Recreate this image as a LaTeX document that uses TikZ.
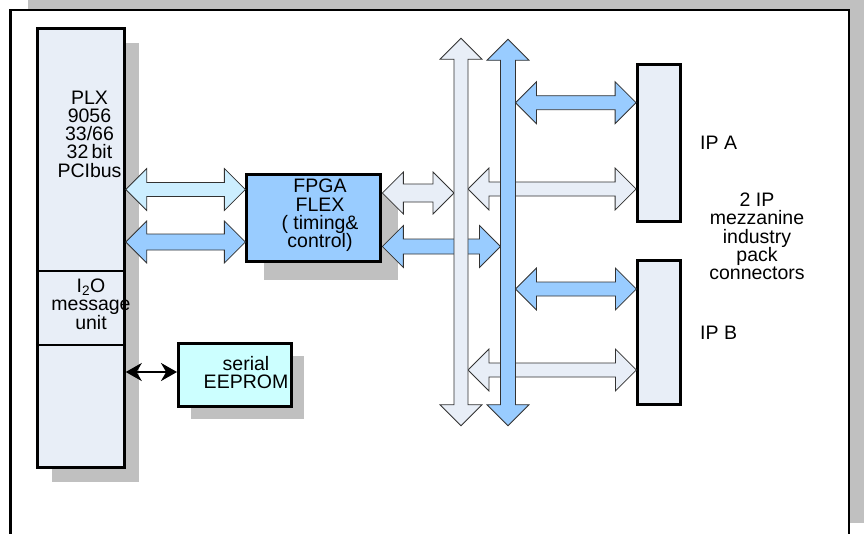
\documentclass[tikz,border=0pt]{standalone}
\usepackage{fontspec}
\setmainfont{Liberation Sans}
\usetikzlibrary{arrows.meta,shadows,calc}
\definecolor{lightfill}{RGB}{232,238,247}
\definecolor{cyanfill}{RGB}{204,238,255}
\definecolor{bluefill}{RGB}{153,204,255}
\definecolor{eepromfill}{RGB}{204,255,255}
\definecolor{shadowgray}{RGB}{192,192,192}
\definecolor{arrowline}{RGB}{50,50,50}
% horizontal double block arrow: #1 style, #2 left point, #3 right point, #4 y (px), #5 shaft half width
\newcommand\blockH[5]{%
  \draw[#1] let \p1=(#2), \p2=(#3), \p3=(0,#4) in
    (\x1,\y3) -- ++(21pt,21pt) -- ++(0pt,{#5pt-21pt}) -- ({\x2-21pt},{\y3+#5pt})
    -- ++(0pt,{21pt-#5pt}) -- (\x2,\y3) -- ++(-21pt,-21pt) -- ++(0pt,{21pt-#5pt})
    -- ({\x1+21pt},{\y3-#5pt}) -- ++(0pt,{#5pt-21pt}) -- cycle;}
% vertical double block arrow: #1 style, #2 x centre, #3 top, #4 bottom, #5 shaft half width
\newcommand\blockV[5]{%
  \draw[#1] (#2,#3) -- ({#2+21},{#3+21}) -- ({#2+#5},{#3+21}) -- ({#2+#5},{#4-21})
    -- ({#2+21},{#4-21}) -- (#2,#4) -- ({#2-21},{#4-21}) -- ({#2-#5},{#4-21})
    -- ({#2-#5},{#3+21}) -- ({#2-21},{#3+21}) -- cycle;}
\begin{document}
\begin{tikzpicture}[x=1pt,y=-1pt,
  box/.style={draw=black, line width=3pt, inner sep=0pt},
  txt/.style={font=\fontsize{19.5}{18.3}\selectfont, align=center, inner sep=0pt},
  barrow/.style={draw=arrowline, line width=0.8pt, line join=miter},
  shadowbox/.style 2 args={drop shadow={shadow xshift=#1pt, shadow yshift=-#2pt, fill=shadowgray, opacity=1}}
]
\useasboundingbox (0,0) rectangle (864,533);
\clip (0,0) rectangle (864,533);
% panel
\fill[shadowgray] (27.5,0) rectangle (870,523);
\draw[line width=2.5pt, fill=white] (10.5,10) rectangle (849,540);

% boxes
\node[box, fill=lightfill, minimum width=87pt, minimum height=439pt, shadowbox={15}{15}] (plx) at (80.75,247.5) {};
\draw[line width=2.5pt] (plx.west |- 0,271) -- (plx.east |- 0,271);
\draw[line width=2.5pt] (plx.west |- 0,345) -- (plx.east |- 0,345);
\node[box, fill=bluefill, minimum width=134pt, minimum height=87pt, shadowbox={17}{19}] (fpga) at (313.85,217.5) {};
\node[box, fill=eepromfill, minimum width=113pt, minimum height=63pt, shadowbox={12}{13}] (eeprom) at (235,374.5) {};
\node[box, fill=lightfill, minimum width=42.5pt, minimum height=157.5pt] (ipabox) at (658.85,143) {};
\node[box, fill=lightfill, minimum width=42.5pt, minimum height=144pt] (ipbbox) at (659.15,332.2) {};

% texts
\node[txt] (plxt) at (89.5,134) {PLX\\9056\\33/66\\32\,bit\\PCIbus};
\node[txt] (i2ot) at (91,304) {I\textsubscript{2}O\\message\\unit};
\node[txt] (fpgat) at (320,215.5) {FPGA\\FLEX\\( timing\&\\control)};
\node[txt] (eet) at (246,372.5) {serial\\EEPROM};
\node[txt, anchor=west] (ipa) at (700,143) {IP A};
\node[txt, anchor=west] (ipb) at (700,333) {IP B};
\node[txt] (ipt) at (757,236.5) {2 IP\\mezzanine\\industry\\pack\\connectors};

% bus edges
\coordinate (lbW) at (454,0);
\coordinate (lbE) at (468,0);
\coordinate (bbW) at (500.5,0);
\coordinate (bbE) at (515.5,0);

% PLX <-> FPGA
\blockH{barrow, fill=cyanfill}{plx.east}{fpga.west}{189.5}{7}
\blockH{barrow, fill=bluefill}{plx.east}{fpga.west}{242}{8}
% PLX <-> EEPROM
\draw[line width=2.5pt, {Stealth[length=16pt,width=18pt]}-{Stealth[length=16pt,width=18pt]}]
  (plx.east |- 0,372) -- (eeprom.west |- 0,372);
% FPGA <-> buses
\blockH{barrow, fill=lightfill}{fpga.east}{lbW}{193}{9}
\blockH{barrow, fill=bluefill}{fpga.east}{bbW}{246.5}{7.5}
% light bus <-> IP
\blockH{barrow, fill=lightfill}{lbE}{ipabox.west}{189}{7}
\blockH{barrow, fill=lightfill}{lbE}{ipbbox.west}{370}{7}
% buses
\blockV{barrow, fill=lightfill}{461}{38.3}{425.7}{7}
\blockV{barrow, fill=bluefill}{508}{39.3}{425.7}{7.5}
% blue bus <-> IP
\blockH{barrow, fill=bluefill}{bbE}{ipabox.west}{102.7}{7}
\blockH{barrow, fill=bluefill}{bbE}{ipbbox.west}{289}{7}
\end{tikzpicture}
\end{document}
